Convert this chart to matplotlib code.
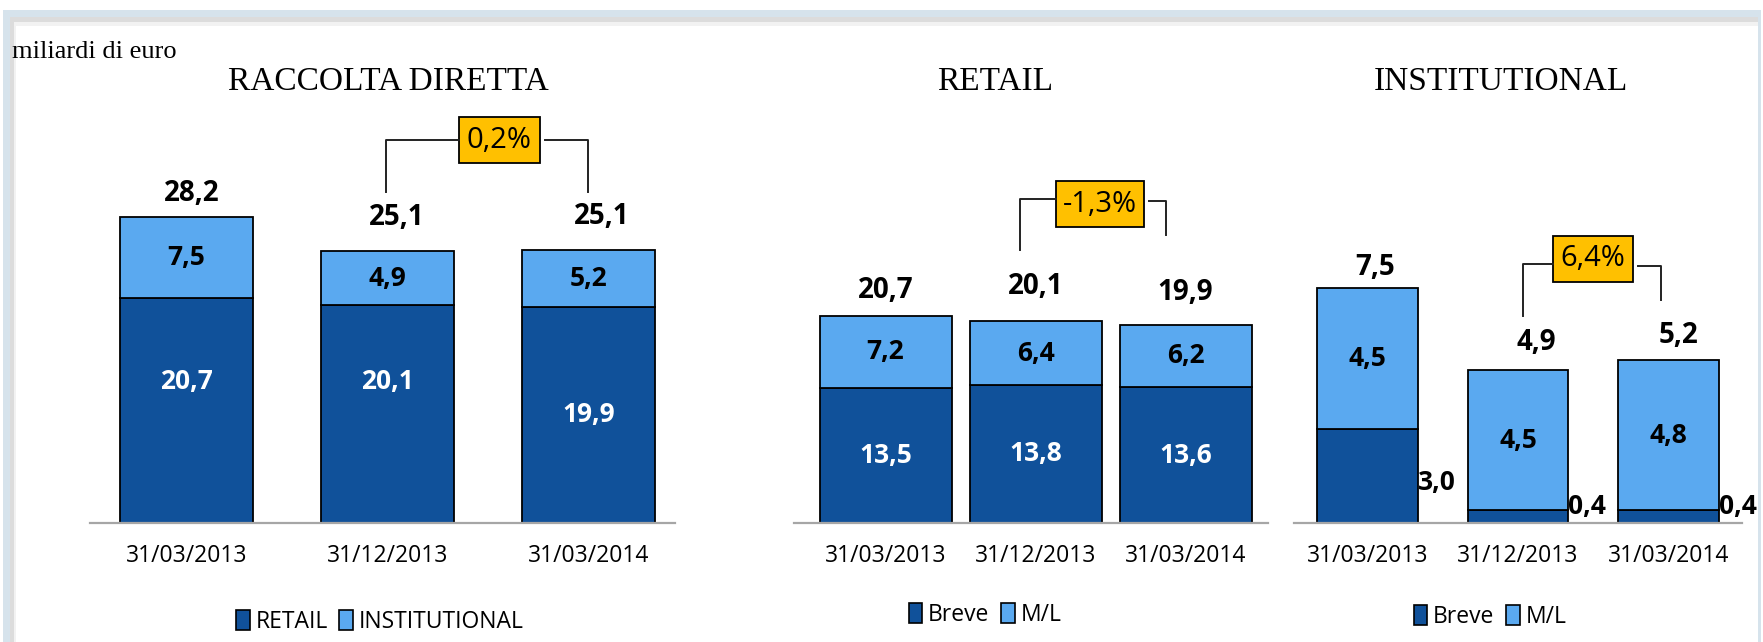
import matplotlib
matplotlib.use("Agg")
import matplotlib.pyplot as plt
from matplotlib.patches import Patch, Rectangle
from matplotlib.lines import Line2D

# --- data (miliardi di euro) ---
dates = ["31/03/2013", "31/12/2013", "31/03/2014"]

raccolta_retail = [20.7, 20.1, 19.9]
raccolta_inst = [7.5, 4.9, 5.2]
raccolta_tot = [28.2, 25.1, 25.1]

retail_breve = [13.5, 13.8, 13.6]
retail_ml = [7.2, 6.4, 6.2]
retail_tot = [20.7, 20.1, 19.9]

inst_breve = [3.0, 0.4, 0.4]
inst_ml = [4.5, 4.5, 4.8]
inst_tot = [7.5, 4.9, 5.2]

var_labels = ["0,2%", "-1,3%", "6,4%"]

W, H = 1763, 642
DARK = "#10519A"
LIGHT = "#5AA9F0"
GOLD = "#FFC000"
SANS = ["Open Sans", "DejaVu Sans"]
SERIF = ["Liberation Serif", "DejaVu Serif"]


def fx(x):
    return x / W


def fy(y):
    return 1 - y / H


def fmt(v):
    return f"{v:.1f}".replace(".", ",")


def add_axes_px(x0, x1, ytop, ybot):
    return fig.add_axes([fx(x0), fy(ybot), (x1 - x0) / W, (ybot - ytop) / H])


fig = plt.figure(figsize=(W / 100, H / 100), dpi=100)

# frame around the slide (drawn behind everything)
fr = fig.transFigure
for x0, ytop, col in [(3, 10, "#D6E3EC"), (10, 17, "#DCDCDC"), (14, 22, "#F2F2F2"), (16, 26, "white")]:
    x1 = 1761 if x0 == 3 else 1758
    fig.add_artist(Rectangle((fx(x0), 0), fx(x1) - fx(x0), fy(ytop), transform=fr,
                             facecolor=col, edgecolor="none", zorder=-10))


def draw_panel(ax, low, high, tot, width, xlim, ymax,
               low_color, tot_off, tot_dx, low_off, low_outside=False):
    x = range(len(dates))
    ax.bar(x, low, width, color=DARK, edgecolor="black", linewidth=1.3)
    ax.bar(x, high, width, bottom=low, color=LIGHT, edgecolor="black", linewidth=1.3)
    ax.set_xlim(*xlim)
    ax.set_ylim(0, ymax)
    for s in ["top", "left", "right"]:
        ax.spines[s].set_visible(False)
    ax.spines["bottom"].set_color("#A6A6A6")
    ax.spines["bottom"].set_linewidth(1.6)
    ax.set_yticks([])
    ax.set_xticks(list(x))
    ax.set_xticklabels(dates, fontsize=16.5, family=SANS)
    ax.tick_params(axis="x", length=0, pad=15)
    ax.patch.set_alpha(0)
    for i in x:
        # total on top
        ax.annotate(fmt(tot[i]), (i, low[i] + high[i]), xytext=(tot_dx[i] * 0.72, tot_off[i] * 0.72),
                    textcoords="offset points", ha="center", va="center",
                    fontsize=20, fontweight="bold", family=SANS)
        # upper segment
        ax.annotate(fmt(high[i]), (i, low[i] + high[i] / 2), ha="center", va="center",
                    fontsize=19, fontweight="bold", family=SANS, color="black")
        # lower segment
        if low_outside:
            ax.annotate(fmt(low[i]), (i + width / 2, low[i] / 2), xytext=(0, low_off[i] * 0.72),
                        textcoords="offset points", ha="left", va="center",
                        fontsize=19, fontweight="bold", family=SANS, color="black")
        else:
            ax.annotate(fmt(low[i]), (i, low[i] / 2), xytext=(0, low_off[i] * 0.72),
                        textcoords="offset points", ha="center", va="center",
                        fontsize=19, fontweight="bold", family=SANS, color=low_color)


ax1 = add_axes_px(90, 675, 40, 523)
draw_panel(ax1, raccolta_retail, raccolta_inst, raccolta_tot, 0.66, (-0.48, 2.43), 483 / 10.86,
           "white", [23, 34, 34], [5, 9, 13], [29, 32, 0])
ax2 = add_axes_px(794, 1268, 40, 523)
draw_panel(ax2, retail_breve, retail_ml, retail_tot, 0.88, (-0.61, 2.55), 483 / 10.0,
           "white", [26, 35, 32], [0, 0, 0], [0, 0, 0])
ax3 = add_axes_px(1294, 1742, 40, 523)
draw_panel(ax3, inst_breve, inst_ml, inst_tot, 0.67, (-0.49, 2.49), 483 / 31.3,
           "black", [21, 27, 25], [7, 18, 10], [-6, 10, 10], low_outside=True)

# titles
fig.text(fx(12), fy(52), "miliardi di euro", fontsize=19, family=SERIF, va="center", ha="left")
for x, t in [(388, "RACCOLTA DIRETTA"), (995, "RETAIL"), (1501, "INSTITUTIONAL")]:
    fig.text(fx(x), fy(82), t, fontsize=24, family=SERIF, ha="center", va="center")

# variation brackets: (left x, left y, left bottom, right x, right y, right bottom, box x0, x1, y0, y1)
brackets = [
    (386, 140, 192, 588, 140, 192, 459, 540, 117, 163),
    (1020, 199, 250, 1166, 201, 235, 1056, 1144, 181, 227),
    (1523, 264, 316, 1661, 266, 300, 1553, 1633, 236, 282),
]
for (lx, ly, lb, rx, ry, rb, bx0, bx1, by0, by1), lab in zip(brackets, var_labels):
    fig.add_artist(Line2D([fx(lx), fx(lx), fx(bx0)], [fy(lb), fy(ly), fy(ly)],
                          transform=fr, color="#222222", lw=1.4))
    fig.add_artist(Line2D([fx(bx1 + 5), fx(rx), fx(rx)], [fy(ry), fy(ry), fy(rb)],
                          transform=fr, color="#222222", lw=1.4))
    fig.add_artist(Rectangle((fx(bx0), fy(by1)), fx(bx1) - fx(bx0), fy(by0) - fy(by1),
                             transform=fr, facecolor=GOLD, edgecolor="black", lw=1.3))
    fig.text(fx((bx0 + bx1) / 2), fy((by0 + by1) / 2), lab, fontsize=21, family=SANS,
             ha="center", va="center")

# legends
def sq(c):
    return Patch(facecolor=c, edgecolor="black", linewidth=1.2)


for (cx, cy), labs in [((380, 622), ["RETAIL", "INSTITUTIONAL"]),
                       ((985, 615), ["Breve", "M/L"]),
                       ((1490, 617), ["Breve", "M/L"])]:
    fig.legend([sq(DARK), sq(LIGHT)], labs, loc="center", bbox_to_anchor=(fx(cx), fy(cy)),
               ncol=2, frameon=False, prop={"family": SANS, "size": 16.5},
               handlelength=0.6, handleheight=1.0, handletextpad=0.25, columnspacing=0.5)

fig.savefig("out.png", dpi=100)
